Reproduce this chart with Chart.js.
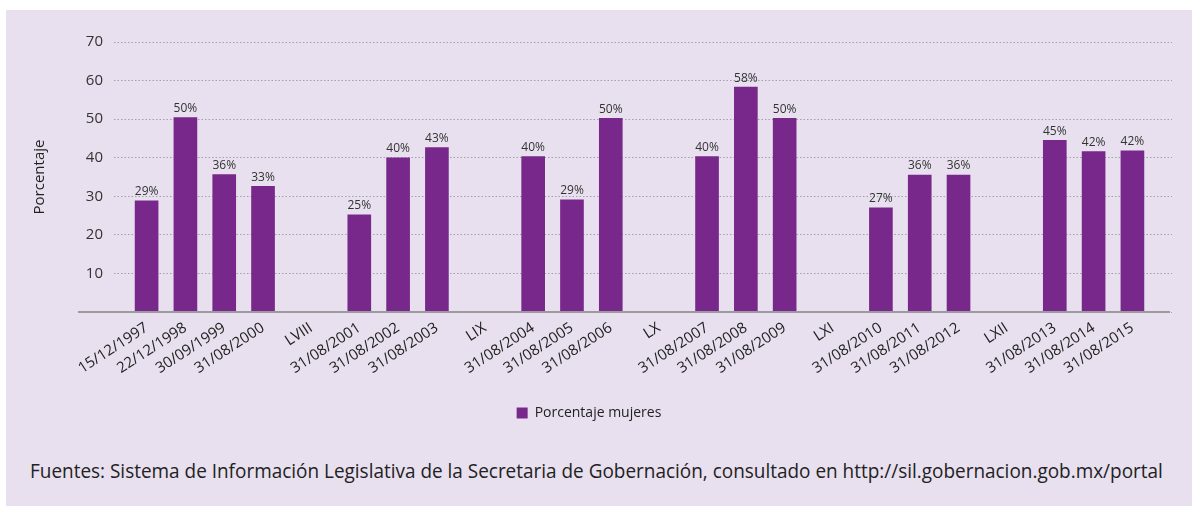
<!DOCTYPE html>
<html lang="es">
<head>
<meta charset="UTF-8">
<title>Porcentaje mujeres</title>
<script src="https://cdn.jsdelivr.net/npm/chart.js"></script>
<style>
    html, body { margin: 0; padding: 0; background: #fff; }
    body { width: 1192px; height: 506px; position: relative; overflow: hidden; }
    .marco { position: absolute; left: 6px; top: 10px; width: 1186px; height: 496px; background: #e8e0ef; }
    .grafica { position: absolute; left: 0; top: 0; width: 1186px; height: 420px; }
    .fuente {
        position: absolute; left: 24px; top: 447px;
        font: 20px "Liberation Sans Narrow", "Open Sans", sans-serif;
        color: #222; white-space: nowrap; transform-origin: left top;
    }
</style>
</head>
<body>
<div class="marco">
    <div class="grafica"><canvas id="grafica"></canvas></div>
    <div class="fuente" id="fuente">Fuentes: Sistema de Información Legislativa de la Secretaria de Gobernación, consultado en http://sil.gobernacion.gob.mx/portal</div>
</div>
<script>
/* categorías del eje x (los números romanos son las legislaturas, sin barra) */
const etiquetas = [
    '15/12/1997', '22/12/1998', '30/09/1999', '31/08/2000',
    'LVIII', '31/08/2001', '31/08/2002', '31/08/2003',
    'LIX', '31/08/2004', '31/08/2005', '31/08/2006',
    'LX', '31/08/2007', '31/08/2008', '31/08/2009',
    'LXI', '31/08/2010', '31/08/2011', '31/08/2012',
    'LXII', '31/08/2013', '31/08/2014', '31/08/2015'
];
/* porcentaje de mujeres (null = separador de legislatura) */
const porcentajeMujeres = [
    28.8, 50.4, 35.6, 32.6,
    null, 25.2, 40.0, 42.6,
    null, 40.3, 29.1, 50.2,
    null, 40.3, 58.3, 50.2,
    null, 27.0, 35.5, 35.5,
    null, 44.5, 41.6, 41.8
];
const ticksY = [0, 10, 20, 30, 40, 50, 60, 70];

/* el separador de legislatura ocupa algo más de espacio que una barra */
const SALTO = 2.48;
const posiciones = [];
let p = 0;
etiquetas.forEach((e, i) => {
    if (i > 0) {
        const hueco = porcentajeMujeres[i] === null || porcentajeMujeres[i - 1] === null;
        p += hueco ? SALTO / 2 : 1;
    }
    posiciones.push(p);
});

const puntos = [];
posiciones.forEach((x, i) => {
    if (porcentajeMujeres[i] !== null) puntos.push({x: x, y: porcentajeMujeres[i]});
});

const fuente = 'Open Sans';

/* rótulos de porcentaje encima de cada barra */
const rotulos = {
    id: 'rotulos',
    afterDatasetsDraw(chart) {
        const ctx = chart.ctx;
        const meta = chart.getDatasetMeta(0);
        ctx.save();
        ctx.font = '12px "' + fuente + '"';
        ctx.fillStyle = '#333';
        ctx.textAlign = 'center';
        ctx.textBaseline = 'bottom';
        meta.data.forEach((bar, i) => {
            ctx.fillText(Math.round(puntos[i].y) + '%', bar.x, bar.y - 3);
        });
        ctx.restore();
    }
};

/* línea base que se extiende hasta debajo de las etiquetas del eje y */
const lineaBase = {
    id: 'lineaBase',
    afterDatasetsDraw(chart) {
        const ctx = chart.ctx;
        const area = chart.chartArea;
        const y0 = chart.scales.y.getPixelForValue(0);
        ctx.save();
        ctx.strokeStyle = '#9c9a9e';
        ctx.lineWidth = 2;
        ctx.beginPath();
        ctx.moveTo(area.left - 36, y0);
        ctx.lineTo(area.right - 2, y0);
        ctx.stroke();
        ctx.restore();
    }
};

new Chart(document.getElementById('grafica'), {
    type: 'bar',
    data: {
        datasets: [{
            label: 'Porcentaje mujeres',
            data: puntos,
            backgroundColor: '#78288a',
            barThickness: 23
        }]
    },
    options: {
        responsive: true,
        maintainAspectRatio: false,
        animation: false,
        layout: { padding: { left: 0, right: 20, top: 32, bottom: 0 } },
        plugins: {
            tooltip: { enabled: false },
            legend: {
                position: 'bottom',
                labels: {
                    boxWidth: 11, boxHeight: 11, padding: 10,
                    color: '#222', font: { family: fuente, size: 14 }
                }
            }
        },
        scales: {
            x: {
                type: 'linear',
                offset: false,
                min: -0.84,
                max: posiciones[posiciones.length - 1] + 1.02,
                grid: { display: false, drawTicks: false },
                border: { display: false },
                afterBuildTicks: s => { s.ticks = posiciones.map(v => ({value: v})); },
                afterFit: s => { s.height = 84; },
                ticks: {
                    autoSkip: false,
                    minRotation: 33, maxRotation: 33,
                    padding: 7,
                    color: '#222',
                    font: { family: fuente, size: 15 },
                    callback: (v, i) => etiquetas[i]
                }
            },
            y: {
                min: 0, max: 70,
                afterBuildTicks: s => { s.ticks = ticksY.map(v => ({value: v})); },
                afterFit: s => { s.width = 108; },
                grid: { color: '#a3a1a7', lineWidth: 1, drawTicks: false },
                border: { display: false, dash: [1.5, 2] },
                ticks: {
                    padding: 11,
                    color: '#333',
                    font: { family: fuente, size: 15 },
                    callback: v => v === 0 ? '' : v
                },
                title: {
                    display: true,
                    text: 'Porcentaje',
                    color: '#222',
                    font: { family: fuente, size: 15 },
                    padding: { top: 25, bottom: 0 }
                }
            }
        }
    },
    plugins: [rotulos, lineaBase]
});

/* ajustar la nota de fuentes al ancho del original */
const nota = document.getElementById('fuente');
nota.style.transform = 'scaleX(' + (1133 / nota.scrollWidth) + ')';
</script>
</body>
</html>
